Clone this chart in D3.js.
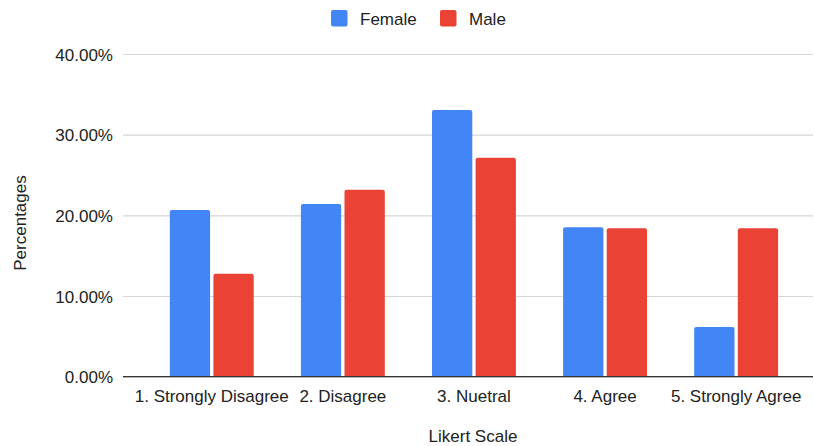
<!DOCTYPE html>
<html>
<head>
<meta charset="utf-8">
<script src="https://cdn.jsdelivr.net/npm/d3@7"></script>
<style>
  body { margin: 0; background: #fff; }
  text { font-family: "Liberation Sans", Arial, sans-serif; fill: #222; }
</style>
</head>
<body>
<svg id="chart" width="814" height="446"></svg>
<script>
// data
var categories = ["1. Strongly Disagree", "2. Disagree", "3. Nuetral", "4. Agree", "5. Strongly Agree"];
var seriesNames = ["Female", "Male"];
var female = [20.66, 21.40, 33.05, 18.51, 6.16];
var male = [12.76, 23.17, 27.14, 18.39, 18.39];
var yTicks = [0, 10, 20, 30, 40];

var colors = ["#4285f4", "#ea4335"];

var svg = d3.select("#chart"),
    margin = {top: 54, left: 123, bottom: 69, right: 1},
    width = 814,
    height = 446;

var rows = categories.map(function(c, i) {
    return {cat: c, Female: female[i], Male: male[i]};
});

var y = d3.scaleLinear()
    .domain([0, 40])
    .range([height - margin.bottom - 0.3, margin.top]);

var x0 = d3.scaleBand()
    .domain(categories)
    .range([146.2, 801.7])
    .paddingInner(0.36)
    .paddingOuter(0.18);

var x1 = d3.scaleBand()
    .domain(seriesNames)
    .range([0, x0.bandwidth()])
    .paddingInner(0.076);

var z = d3.scaleOrdinal().domain(seriesNames).range(colors);

// gridlines + y labels
var yAxis = svg.append("g")
    .attr("class", "y-axis")
    .attr("transform", `translate(${margin.left},0)`)
    .call(d3.axisLeft(y).tickValues(yTicks)
        .tickSize(-(width - margin.left - margin.right))
        .tickPadding(10)
        .tickFormat(d => d.toFixed(2) + "%"));
yAxis.select(".domain").remove();
yAxis.selectAll(".tick line").attr("stroke", "#d6d6d6").attr("stroke-width", 1.2);
yAxis.selectAll(".tick text")
    .style("font-size", "17px")
    .attr("fill", "#222")
    .attr("dy", "0.36em");

// bars with rounded top corners
function barPath(x, yTop, w, yBot) {
    var r = Math.min(2, yBot - yTop);
    return `M${x},${yBot}V${yTop + r}Q${x},${yTop} ${x + r},${yTop}H${x + w - r}Q${x + w},${yTop} ${x + w},${yTop + r}V${yBot}Z`;
}

var group = svg.selectAll("g.layer")
    .data(rows)
    .enter().append("g")
    .attr("class", "layer")
    .attr("transform", d => `translate(${x0(d.cat)},0)`);

group.selectAll("path")
    .data(d => seriesNames.map(k => ({key: k, value: d[k]})))
    .enter().append("path")
    .attr("fill", d => z(d.key))
    .attr("d", d => barPath(x1(d.key), y(d.value), x1.bandwidth(), y(0)));

// x axis
var xAxis = svg.append("g")
    .attr("class", "x-axis")
    .attr("transform", `translate(0,${y(0)})`)
    .call(d3.axisBottom(x0).tickSize(0).tickPadding(13));
xAxis.select(".domain")
    .attr("d", `M${margin.left},0H${width - margin.right}`)
    .attr("stroke", "#333")
    .attr("stroke-width", 1.3);
xAxis.selectAll(".tick text")
    .style("font-size", "17px")
    .attr("fill", "#222");

// axis titles
svg.append("text")
    .attr("x", 473).attr("y", 442)
    .attr("text-anchor", "middle")
    .style("font-size", "17px")
    .text("Likert Scale");

svg.append("text")
    .attr("transform", "translate(25.5,223) rotate(-90)")
    .attr("text-anchor", "middle")
    .style("font-size", "17px")
    .text("Percentages");

// legend
var legendX = [331, 440];
for (var k = 0; k < seriesNames.length; k++) {
    svg.append("rect")
        .attr("x", legendX[k]).attr("y", 10)
        .attr("width", 16.5).attr("height", 16.5)
        .attr("rx", 2)
        .attr("fill", colors[k]);
    svg.append("text")
        .attr("x", legendX[k] + 29).attr("y", 24.5)
        .style("font-size", "17px")
        .text(seriesNames[k]);
}
</script>
</body>
</html>
